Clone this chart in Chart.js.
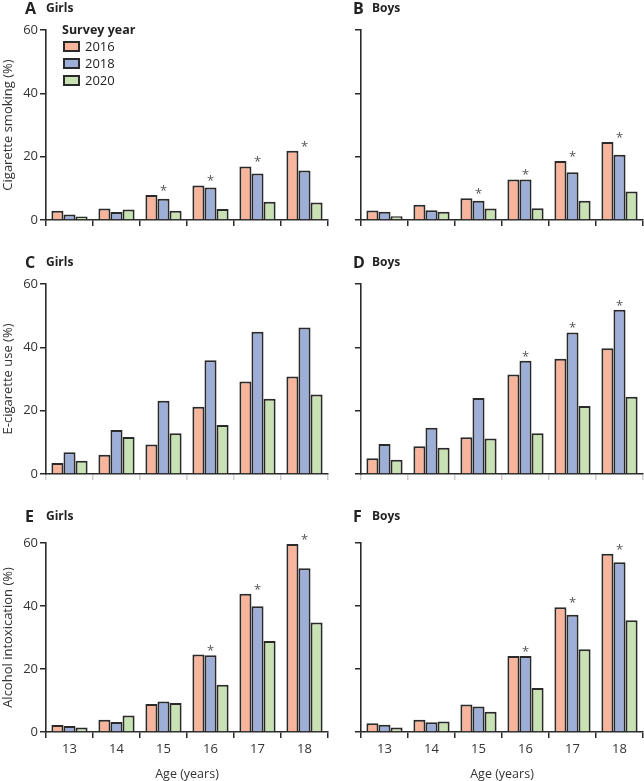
<!DOCTYPE html>
<html><head><meta charset="utf-8">
<script src="https://cdn.jsdelivr.net/npm/chart.js@4"></script>
<style>
html,body{margin:0;padding:0;background:#fff;overflow:hidden;width:644px;height:781px;font-family:'Open Sans',sans-serif;color:#222}
canvas{position:absolute}
.pl{position:absolute;font-weight:700;font-size:16px;line-height:16px;color:#222}
.pn{position:absolute;font-weight:700;font-size:12px;line-height:14px;color:#222}
.leg{position:absolute;left:62px;top:21px;font-size:13px;color:#222}
.leg .h{font-weight:700;font-size:12.5px;line-height:17px}
.leg .it{position:relative;height:17px;line-height:17px;padding-left:23px}
.leg .bx{position:absolute;left:1px;top:3px;width:13px;height:7px;border:2px solid #2a2a2a}
</style></head><body>
<canvas id="cA" width="330" height="255" style="left:0;top:0"></canvas>
<canvas id="cB" width="314" height="255" style="left:330px;top:0"></canvas>
<canvas id="cC" width="330" height="255" style="left:0;top:255px"></canvas>
<canvas id="cD" width="314" height="255" style="left:330px;top:255px"></canvas>
<canvas id="cE" width="330" height="271" style="left:0;top:510px"></canvas>
<canvas id="cF" width="314" height="271" style="left:330px;top:510px"></canvas>

<div class="pl" style="left:25px;top:0px">A</div><div class="pn" style="left:46px;top:1px">Girls</div>
<div class="pl" style="left:353px;top:0px">B</div><div class="pn" style="left:372px;top:1px">Boys</div>
<div class="pl" style="left:25px;top:254px">C</div><div class="pn" style="left:46px;top:255px">Girls</div>
<div class="pl" style="left:353px;top:254px">D</div><div class="pn" style="left:372px;top:255px">Boys</div>
<div class="pl" style="left:25px;top:508px">E</div><div class="pn" style="left:46px;top:509px">Girls</div>
<div class="pl" style="left:353px;top:508px">F</div><div class="pn" style="left:372px;top:509px">Boys</div>

<div class="leg">
  <div class="h">Survey year</div>
  <div class="it"><span class="bx" style="background:#F9B59B"></span>2016</div>
  <div class="it"><span class="bx" style="background:#9DAED9"></span>2018</div>
  <div class="it"><span class="bx" style="background:#C9E2B4"></span>2020</div>
</div>

<script>
// ---- data ----
const ages = ['13', '14', '15', '16', '17', '18'];
const years = ['2016', '2018', '2020'];
const yTicks = [0, 20, 40, 60];

const smokingGirls2016 = [2.9, 3.6, 7.9, 10.9, 16.9, 21.9];
const smokingGirls2018 = [1.7, 2.5, 6.7, 10.3, 14.7, 15.6];
const smokingGirls2020 = [1.1, 3.3, 2.9, 3.5, 5.8, 5.5];
const smokingGirlsStars = [0, 0, 1, 1, 1, 1];

const smokingBoys2016 = [3.0, 4.8, 6.9, 12.8, 18.6, 24.6];
const smokingBoys2018 = [2.6, 3.1, 6.1, 12.8, 15.1, 20.6];
const smokingBoys2020 = [1.2, 2.6, 3.6, 3.7, 6.1, 9.0];
const smokingBoysStars = [0, 0, 1, 1, 1, 1];

const ecigGirls2016 = [3.5, 6.1, 9.3, 21.2, 29.2, 30.8];
const ecigGirls2018 = [6.9, 13.9, 23.1, 35.9, 44.9, 46.3];
const ecigGirls2020 = [4.2, 11.7, 12.9, 15.5, 23.8, 25.1];
const ecigGirlsStars = [0, 0, 0, 0, 0, 0];

const ecigBoys2016 = [5.0, 8.8, 11.6, 31.4, 36.4, 39.7];
const ecigBoys2018 = [9.5, 14.6, 24.0, 35.8, 44.7, 51.9];
const ecigBoys2020 = [4.5, 8.3, 11.2, 12.9, 21.5, 24.4];
const ecigBoysStars = [0, 0, 0, 1, 1, 1];

const alcoholGirls2016 = [2.2, 3.9, 8.9, 24.6, 43.9, 59.7];
const alcoholGirls2018 = [1.9, 3.2, 9.7, 24.4, 39.9, 52.0];
const alcoholGirls2020 = [1.4, 5.2, 9.2, 15.0, 28.9, 34.8];
const alcoholGirlsStars = [0, 0, 0, 1, 1, 1];

const alcoholBoys2016 = [2.8, 3.9, 8.7, 24.1, 39.6, 56.6];
const alcoholBoys2018 = [2.3, 3.1, 8.1, 24.1, 37.2, 53.9];
const alcoholBoys2020 = [1.4, 3.3, 6.4, 14.0, 26.3, 35.5];
const alcoholBoysStars = [0, 0, 0, 1, 1, 1];

// ---- styles ----
const FONT = "'Open Sans', sans-serif";
const colors = ['#F9B59B', '#9DAED9', '#C9E2B4'];
const edge = '#2a2a2a';
const textCol = '#333';

const starPlugin = {
  id: 'stars',
  afterDatasetsDraw(chart, args, opts) {
    const flags = opts.flags || [];
    const ctx = chart.ctx, xs = chart.scales.x, ys = chart.scales.y;
    ctx.save();
    ctx.fillStyle = '#555';
    ctx.font = "13px " + FONT;
    ctx.textAlign = 'center';
    ctx.textBaseline = 'alphabetic';
    flags.forEach((f, i) => {
      if (!f) return;
      const m = Math.max(...chart.data.datasets.map(d => d.data[i]));
      ctx.fillText('*', xs.getPixelForValue(i), ys.getPixelForValue(m));
    });
    ctx.restore();
  }
};

function panel(id, series, stars, o) {
  new Chart(document.getElementById(id), {
    type: 'bar',
    data: {
      labels: ages,
      datasets: series.map((d, k) => ({
        label: years[k], data: d,
        backgroundColor: colors[k], borderColor: edge, borderWidth: 2,
        categoryPercentage: 0.77, barPercentage: 1.0
      }))
    },
    options: {
      responsive: false, animation: false, devicePixelRatio: 1,
      layout: { padding: { top: o.padTop, right: o.right, left: 0, bottom: 0 } },
      plugins: { legend: { display: false }, tooltip: { enabled: false }, stars: { flags: stars } },
      scales: {
        x: {
          grid: { display: true, drawOnChartArea: false, drawTicks: true, tickLength: 6, color: o.xTickCol, lineWidth: 1.5, offset: true },
          border: { display: true, color: edge, width: 1.6 },
          ticks: { display: o.showX, font: { family: FONT, size: 13 }, color: textCol, padding: 3, maxRotation: 0 },
          title: { display: o.showX, text: 'Age (years)', font: { family: FONT, size: 12.5, lineHeight: 1 }, color: textCol, padding: 0 },
          afterFit: s => { s.height = o.xh; }
        },
        y: {
          min: 0, max: 60,
          afterBuildTicks: s => { s.ticks = yTicks.map(v => ({ value: v })); },
          grid: { display: true, drawOnChartArea: false, drawTicks: true, tickLength: 6, color: edge, lineWidth: 1.5 },
          border: { display: true, color: edge, width: 1.6 },
          ticks: { display: o.showY, font: { family: FONT, size: 13 }, color: textCol, padding: 2 },
          title: { display: o.showY, text: o.yTitle, font: { family: FONT, size: 13, lineHeight: 1.2 }, color: textCol, padding: 0 },
          afterFit: s => { s.width = o.yw; }
        }
      }
    },
    plugins: [starPlugin]
  });
}

const colL = { right: 2, yw: 46, showY: true };
const colR = { right: 1, yw: 31, showY: false };
const rowTop = { padTop: 30, xh: 35, showX: false, xTickCol: edge };
const rowMid = { padTop: 29, xh: 36, showX: false, xTickCol: '#cfcfcf' };
const rowBot = { padTop: 33, xh: 49, showX: true, xTickCol: edge };

panel('cA', [smokingGirls2016, smokingGirls2018, smokingGirls2020], smokingGirlsStars, { ...colL, ...rowTop, yTitle: 'Cigarette smoking (%)' });
panel('cB', [smokingBoys2016, smokingBoys2018, smokingBoys2020], smokingBoysStars, { ...colR, ...rowTop });
panel('cC', [ecigGirls2016, ecigGirls2018, ecigGirls2020], ecigGirlsStars, { ...colL, ...rowMid, yTitle: 'E-cigarette use (%)' });
panel('cD', [ecigBoys2016, ecigBoys2018, ecigBoys2020], ecigBoysStars, { ...colR, ...rowMid });
panel('cE', [alcoholGirls2016, alcoholGirls2018, alcoholGirls2020], alcoholGirlsStars, { ...colL, ...rowBot, yTitle: 'Alcohol intoxication (%)' });
panel('cF', [alcoholBoys2016, alcoholBoys2018, alcoholBoys2020], alcoholBoysStars, { ...colR, ...rowBot });
</script>
</body></html>
